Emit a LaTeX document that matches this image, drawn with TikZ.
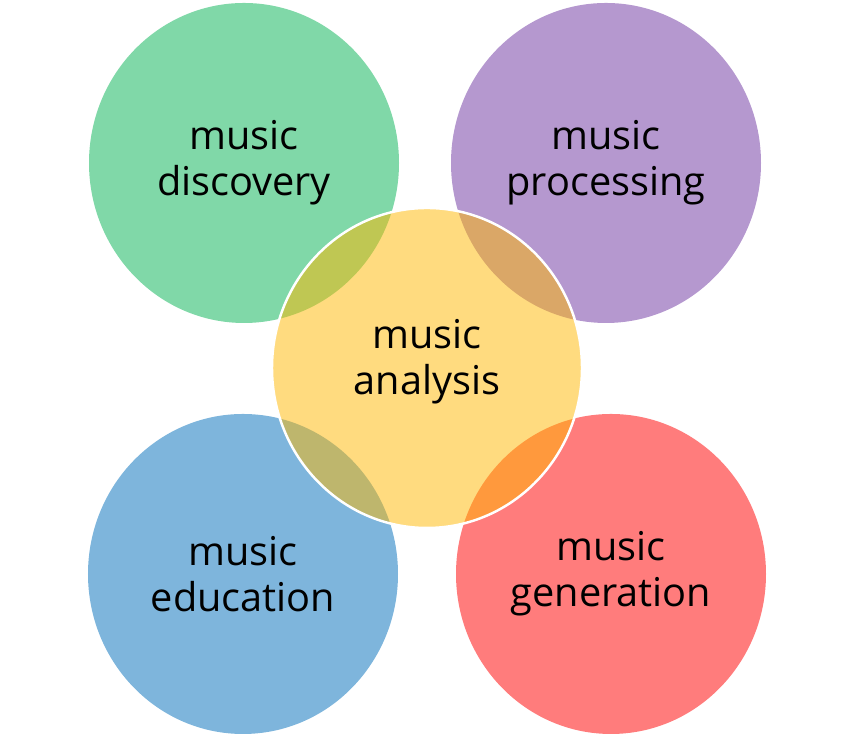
\documentclass[tikz,border=0pt]{standalone}
\usepackage{fontspec}
\newfontfamily\labelfont{Open Sans}
\usepackage{tikz}
\usetikzlibrary{shapes.geometric,positioning}
\definecolor{cDisc}{HTML}{80D8A8}
\definecolor{cProc}{HTML}{B598CF}
\definecolor{cEdu}{HTML}{7EB5DC}
\definecolor{cGen}{HTML}{FF7C7C}
\definecolor{cAna}{HTML}{FFB700}

\begin{document}
\begin{tikzpicture}[
  blob/.style={
    ellipse, minimum width=3.10cm, minimum height=3.20cm, inner sep=0pt,
    font=\labelfont\fontsize{11.3}{13.0}\selectfont, align=center
  },
  outer/.style={blob},
  hub/.style={blob, fill=cAna, fill opacity=0.5, text opacity=1,
    draw=white, line width=0.7pt},
]
\useasboundingbox (0,0) rectangle (8.54,7.37);
% outer ring
\node[outer, fill=cDisc] (disc) at (2.44,5.74) {music\\discovery};
\node[outer, fill=cProc] (proc) at (6.06,5.74) {music\\processing};
\node[outer, fill=cEdu]  (edu)  at (2.43,1.63) {music\\education};
\node[outer, fill=cGen]  (gen)  at (6.11,1.63) {music\\generation};
% centre
\node[hub] (ana) at (4.27,3.69) {};
\node[font=\labelfont\fontsize{11.3}{13.0}\selectfont, align=center]
  (anatext) at (4.27,3.75) {music\\analysis};
\end{tikzpicture}
\end{document}
